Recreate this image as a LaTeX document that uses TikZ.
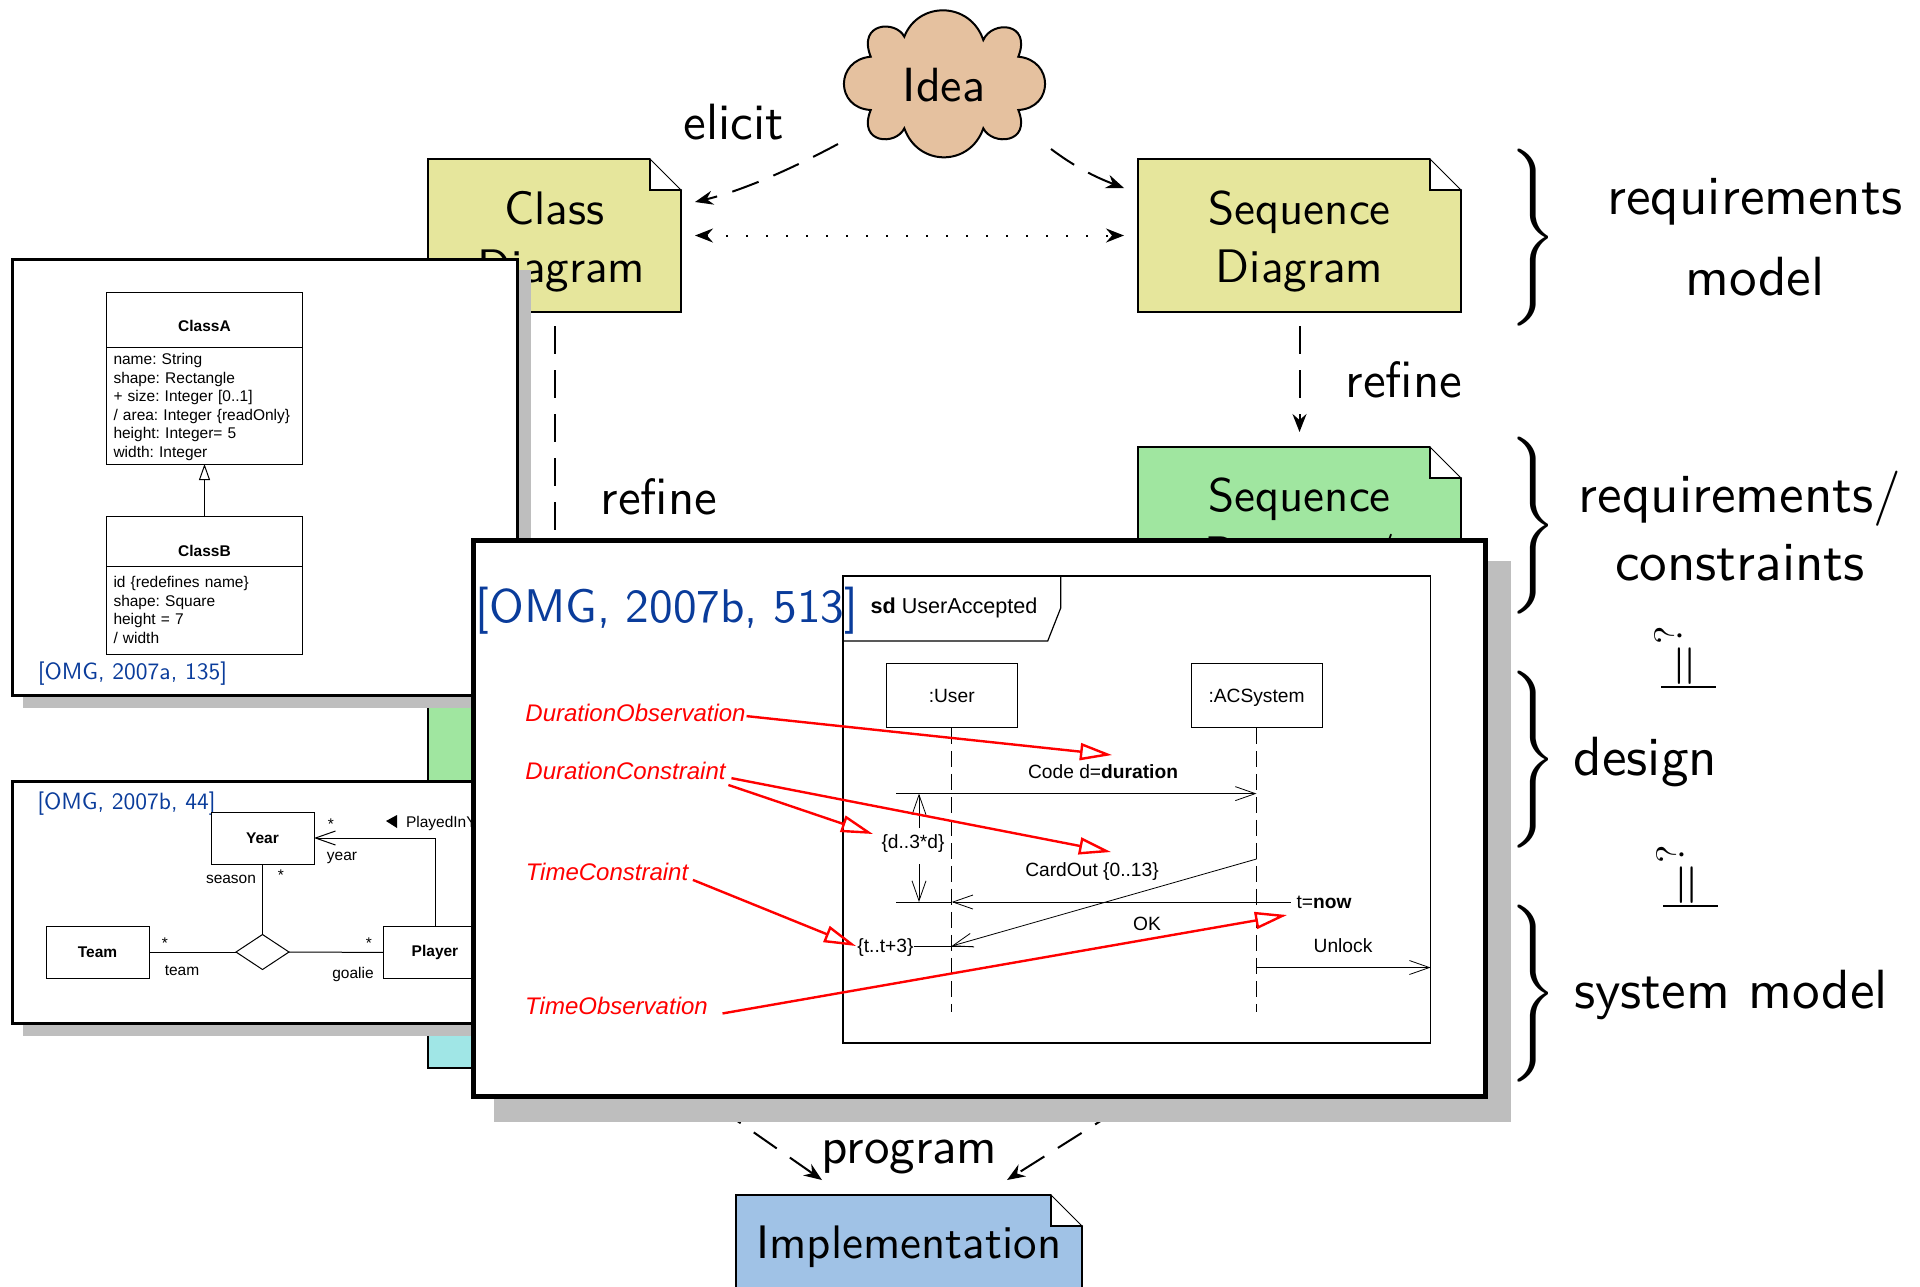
\documentclass[tikz,border=0pt]{standalone}
\usepackage{amsmath}
\usepackage{amssymb}
\usepackage{fontspec}
\usetikzlibrary{arrows.meta,positioning,shapes.geometric}
\setsansfont{lmsans10-regular.otf}
\renewcommand{\familydefault}{\sfdefault}
\newfontfamily\umlfamily{Liberation Sans}
\newcommand{\uplift}{\rule{0pt}{22.5pt}}
\frenchspacing

\definecolor{ideacol}{HTML}{E5C19F}
\definecolor{reqcol}{HTML}{E6E69C}
\definecolor{designcol}{HTML}{A0E6A0}
\definecolor{modelcol}{HTML}{A0E6E6}
\definecolor{implcol}{HTML}{A0C2E6}
\definecolor{citecol}{HTML}{0A3C9B}
\definecolor{shadecol}{HTML}{BEBEBE}

\begin{document}
\begin{tikzpicture}[%
            x=0.5pt,y=-0.5pt,
            >={Stealth[length=9pt,width=7pt,inset=3pt]},
            outer sep=0pt,
            flow/.style={->,line width=1pt,dash pattern=on 14pt off 8pt},
            docbox/.style={draw,line width=1pt,align=center,font=\fontsize{23.5}{29}\selectfont},
            tag/.style={font=\fontsize{25.5}{29}\selectfont},
            sidetext/.style={align=center,font=\fontsize{27.6}{34}\selectfont},
            popup/.style={draw,fill=white,line width=1.5pt},
            shade/.style={fill=shadecol},
            citesmall/.style={text=citecol,inner sep=0pt,font=\fontsize{11.75}{14}\selectfont},
            umlbox/.style={draw,fill=white,line width=0.5pt,minimum width=98pt,font=\umlfamily\fontsize{7.75}{9.3}\selectfont},
            umlbody/.style={umlbox,text width=91pt,inner xsep=3.5pt,inner ysep=0pt,align=left},
            umlrel/.style={draw,fill=white,line width=0.5pt,minimum width=51.5pt,minimum height=26pt,font=\umlfamily\fontsize{7.75}{9.3}\selectfont},
            umltext/.style={inner sep=0pt,font=\umlfamily\fontsize{7.75}{9.3}\selectfont},
            seqtext/.style={inner sep=0pt,font=\umlfamily\fontsize{9.6}{11.5}\selectfont},
            seqbox/.style={draw,line width=0.5pt,minimum width=65.5pt,minimum height=32pt,text height=8.4pt,text depth=2pt,font=\umlfamily\fontsize{9.6}{11.5}\selectfont},
            note/.style={inner sep=0pt,text=red,font=\umlfamily\itshape\fontsize{12}{14}\selectfont},
            msg/.style={line width=0.4pt,->,>={Straight Barb[length=10pt,width=7pt]}},
            marker/.style={line width=1.2pt,draw=red,-{Triangle[open,length=16pt,width=8.5pt,line width=1.2pt]}}
            ]
            \clip (0,0) rectangle (1920,1286);

            \draw[fill=ideacol,line width=1pt] (904.3,36.7) .. controls (918,1) and (970,1) .. (983.3,40)
                .. controls (992,20) and (1032,22) .. (1018.3,56.7)
                .. controls (1054,60) and (1054,108) .. (1018.3,110)
                .. controls (1032,144) and (992,146) .. (983.3,128.3)
                .. controls (970,167) and (918,167) .. (904.3,128.3)
                .. controls (896,146) and (857,144) .. (870.7,110)
                .. controls (835,108) and (835,60) .. (870.7,56.7)
                .. controls (857,22) and (896,20) .. (904.3,36.7) -- cycle;
            \node[inner sep=0pt,font=\fontsize{24}{29}\selectfont] (idea) at (944,85) {Idea};

            \node[docbox,fill=reqcol,minimum width=126.5pt,minimum height=76.5pt] (class) at (554.5,235.5) {\uplift Class\\\hspace*{7pt}Diagram};
            \node[docbox,fill=reqcol,minimum width=161.5pt,minimum height=76.5pt] (seqreq) at (1299.5,235.5) {\uplift Sequence\\Diagram};
            \node[docbox,fill=designcol,minimum width=161.5pt,minimum height=76.5pt] (seqdesign) at (1299.5,523.5) {\uplift Sequence\\Diagram/};
            \node[docbox,fill=designcol,minimum width=126.5pt,minimum height=95pt] (classdesign) at (554.5,695) {};
            \node[docbox,fill=modelcol,minimum width=126.5pt,minimum height=34pt] (classmodel) at (554.5,1034) {};
            \node[docbox,fill=implcol,minimum width=173pt,minimum height=52pt] (impl) at (909,1247) {Implementation};

            \foreach \n in {class,seqreq,seqdesign,impl}{
                \fill[white] ([shift={(-15.5pt,1pt)}]\n.north east) rectangle ([shift={(1pt,-15.5pt)}]\n.north east);
                \draw[line width=0.5pt] ([xshift=-15.5pt]\n.north east) -- ([yshift=-15.5pt]\n.north east);
                \draw[line width=1pt,line cap=round] ([xshift=-15.5pt]\n.north east) -- ([shift={(-15.5pt,-15.5pt)}]\n.north east) -- ([yshift=-15.5pt]\n.north east);
            }

            \coordinate (idealeft) at (838,144);
            \coordinate (idearight) at (1051,149);
            \coordinate (classin) at (695,202);
            \coordinate (seqin) at (1124,188);
            \coordinate (progleft) at (681.6,1082);
            \coordinate (progright) at (1156,1086);
            \coordinate (implleft) at (822,1180);
            \coordinate (implright) at (1007,1180);

            \draw[flow] (idealeft) .. controls (795,167) and (745,190) .. (classin);
            \draw[flow] (idearight) .. controls (1075,167) and (1095,177) .. (seqin);
            \draw[<->,line width=1pt,dotted,dash pattern=on 1pt off 9pt,shorten <=7pt,shorten >=7pt] (class) -- (seqreq);
            \draw[flow,shorten <=7pt,shorten >=7.5pt] (seqreq) -- (seqdesign);
            \draw[flow,shorten <=7pt] (class) -- (classdesign);
            \draw[flow] (progleft) -- (implleft);
            \draw[flow] (progright) -- (implright);

            \node[tag] (elicit) at (734,122) {elicit};
            \node[tag] (refineright) at (1404,380) {refine};
            \node[tag] (refineleft) at (659,497) {refine};
            \node[tag] (program) at (909.5,1157) {program};

            \foreach \n/\y in {a/238,b/526,c/760,d/994}
                \node[inner sep=0pt,scale=2.95] (brace\n) at (1533,\y) {$\nulldelimiterspace=0pt\Bigg\}$};
            \node[sidetext] (reqtext) at (1755,237.5) {requirements\\[6.5pt]model};
            \node[sidetext] (constext) at (1740,526) {requirements/\\constraints};
            \node[sidetext] (designtext) at (1645.5,762) {design};
            \node[sidetext] (systext) at (1731,995) {system model};

            \foreach \n/\dx/\dy in {a/0/0,b/2/219}{
                \node[rotate=90,scale=1.95,inner sep=0pt] (query\n) at (1668+\dx,635.5+\dy) {$?$};
                \node[rotate=90,scale=2.75,inner sep=0pt] (equal\n) at (1688.5+\dx,666.5+\dy) {$=$};
                \coordinate (barl\n) at (1661+\dx,687+\dy);
                \coordinate (barr\n) at (1716+\dx,687+\dy);
                \draw[line width=0.6pt] (barl\n) -- (barr\n);
            }

            \node[shade,minimum width=254pt,minimum height=219pt] (classshade) at (277,489) {};
            \node[popup,minimum width=252.8pt,minimum height=218pt] (classpopup) at (265,477) {};
            \node[umlbox,minimum height=27.5pt,text height=12pt] (classAname) at (204.5,319.5) {\textbf{ClassA}};
            \node[umlbody,minimum height=58.5pt,below=0pt of classAname] (classAattr) {\rule{0pt}{7pt}name: String\\shape: Rectangle\\+ size: Integer [0..1]\\/ area: Integer \{readOnly\}\\height: Integer= 5\\width: Integer};
            \node[umlbox,minimum height=25pt,text height=15.6pt] (classBname) at (204.5,541) {\textbf{ClassB}};
            \node[umlbody,minimum height=44pt,below=0pt of classBname] (classBattr) {id \{redefines name\}\\shape: Square\\height = 7\\/ width};
            \draw[line width=0.5pt,-{Triangle[open,length=8pt,width=5.5pt,line width=0.5pt]}] (classBname) -- (classAattr);
            \node[citesmall] (citeA) at (132.5,674) {[OMG, 2007a, 135]};

            \node[shade,minimum width=274pt,minimum height=122pt] (relshade) at (297,914) {};
            \node[popup,minimum width=274pt,minimum height=121pt] (relpopup) at (286,902) {};
            \node[citesmall] (citeB) at (126.5,804) {[OMG, 2007b, 44]};
            \node[umlrel] (year) at (262.5,838) {\textbf{Year}};
            \node[umlrel] (team) at (97.5,952) {\textbf{Team}};
            \node[umlrel] (player) at (435,952.5) {\textbf{Player}};
            \node[diamond,draw,fill=white,line width=0.5pt,aspect=1.5,inner sep=0pt,minimum width=26.5pt,minimum height=17.5pt] (assoc) at (262.5,952) {};
            \draw[line width=0.5pt] (year) -- (assoc);
            \draw[line width=0.5pt] (team) -- (assoc);
            \draw[line width=0.5pt] (assoc) -- (player);
            \draw[msg,line width=0.5pt] (player.north) |- (year.east);
            \foreach \n/\x/\y/\t in {s1/331/824/*,s2/281/875/*,s3/165/943/*,s4/369/943/*,r1/342/858/year,r2/231/879/season,r3/182/971/team,r4/353/974/goalie}
                \node[umltext] (rel\n) at (\x,\y) {\t};
            \fill (386,821) -- (397,815) -- (397,828) -- cycle;
            \node[umltext,anchor=west] (playedin) at (406,823.5) {PlayedInYear};

            \node[shade,minimum width=508.5pt,minimum height=280.5pt] (seqshade) at (1002.5,841.5) {};
            \node[popup,line width=2.5pt,minimum width=506pt,minimum height=278pt] (seqpopup) at (979,818) {};
            \node[text=citecol,inner sep=0pt,font=\fontsize{23.6}{28}\selectfont] (citeC) at (667,611) {[OMG, 2007b, 513]};

            \node[draw,line width=0.6pt,minimum width=293.8pt,minimum height=233.5pt] (sdframe) at (1136.8,809.5) {};
            \coordinate (tabtop) at (1060.7,576);
            \coordinate (tabside) at (1060.7,608);
            \coordinate (tabslant) at (1047.7,641);
            \coordinate (tabend) at (843,641);
            \draw[line width=0.6pt] (tabtop) -- (tabside) -- (tabslant) -- (tabend);
            \node[inner sep=0pt,font=\umlfamily\fontsize{10.8}{13}\selectfont] (sdtitle) at (954,608) {\textbf{sd} UserAccepted};

            \node[seqbox] (user) at (951.7,695.8) {:User};
            \node[seqbox] (acsystem) at (1256.5,695.8) {:ACSystem};
            \coordinate (userend) at (951.7,1012);
            \coordinate (acend) at (1256.5,1012);
            \draw[line width=0.4pt,dash pattern=on 8pt off 3.5pt] (user) -- (userend);
            \draw[line width=0.4pt,dash pattern=on 8pt off 3.5pt] (acsystem) -- (acend);

            \coordinate (msgcode) at (896,793.6);
            \coordinate (msgcodeend) at (1256.5,793.6);
            \coordinate (msgnow) at (1290.5,902);
            \coordinate (msgnowend) at (951.7,902);
            \coordinate (msgnowtick) at (896,902);
            \coordinate (msgcard) at (1256.5,859);
            \coordinate (msgcardend) at (951.7,946);
            \coordinate (tickend) at (973,946);
            \coordinate (msgunlock) at (1256.5,967.5);
            \coordinate (msgunlockend) at (1430.6,967.5);
            \coordinate (durtop) at (919,828);
            \coordinate (durtopend) at (919,793.6);
            \coordinate (durlow) at (919,864);
            \coordinate (durlowend) at (919,902);

            \draw[msg] (msgcode) -- (msgcodeend);
            \draw[line width=0.4pt] (msgnowtick) -- (msgnowend);
            \draw[msg] (msgnow) -- (msgnowend);
            \draw[msg] (msgcard) -- (msgcardend);
            \draw[msg] (msgunlock) -- (msgunlockend);
            \draw[msg] (durtop) -- (durtopend);
            \draw[msg] (durlow) -- (durlowend);

            \node[seqtext] (codetext) at (1103,772) {Code d=\textbf{duration}};
            \node[seqtext] (dbound) at (913,844) {\{d..3*d\}};
            \node[seqtext] (cardtext) at (1092,872) {CardOut \{0..13\}};
            \node[seqtext] (nowtext) at (1324,902) {t=\textbf{now}};
            \node[seqtext] (oktext) at (1147,923.6) {OK};
            \node[seqtext] (tbound) at (885.5,948) {\{t..t+3\}};
            \node[seqtext] (unlocktext) at (1343,946) {Unlock};
            \draw[line width=0.4pt] (tbound.east |- tickend) -- (tickend);

            \node[note] (durobs) at (635.5,713) {DurationObservation};
            \node[note] (durcons) at (625.5,771) {DurationConstraint};
            \node[note] (timecons) at (607,872) {TimeConstraint};
            \node[note] (timeobs) at (616.5,1006) {TimeObservation};
            \coordinate (tipcode) at (1112,755);
            \coordinate (tipcard) at (1111,852);
            \coordinate (tipd) at (873,834);
            \coordinate (tipt) at (856,946);
            \coordinate (tipnow) at (1287,915);
            \draw[marker,shorten <=0.5pt] ([yshift=-1.5pt]durobs.east) -- (tipcode);
            \draw[marker,shorten <=3pt] ([yshift=-3pt]durcons.east) -- (tipcard);
            \draw[marker,shorten <=1.5pt] ([yshift=-6.5pt]durcons.east) -- (tipd);
            \draw[marker,shorten <=2.5pt] ([yshift=-3pt]timecons.east) -- (tipt);
            \draw[marker,shorten <=7.5pt] ([yshift=-5pt]timeobs.east) -- (tipnow);
        \end{tikzpicture}
\end{document}
